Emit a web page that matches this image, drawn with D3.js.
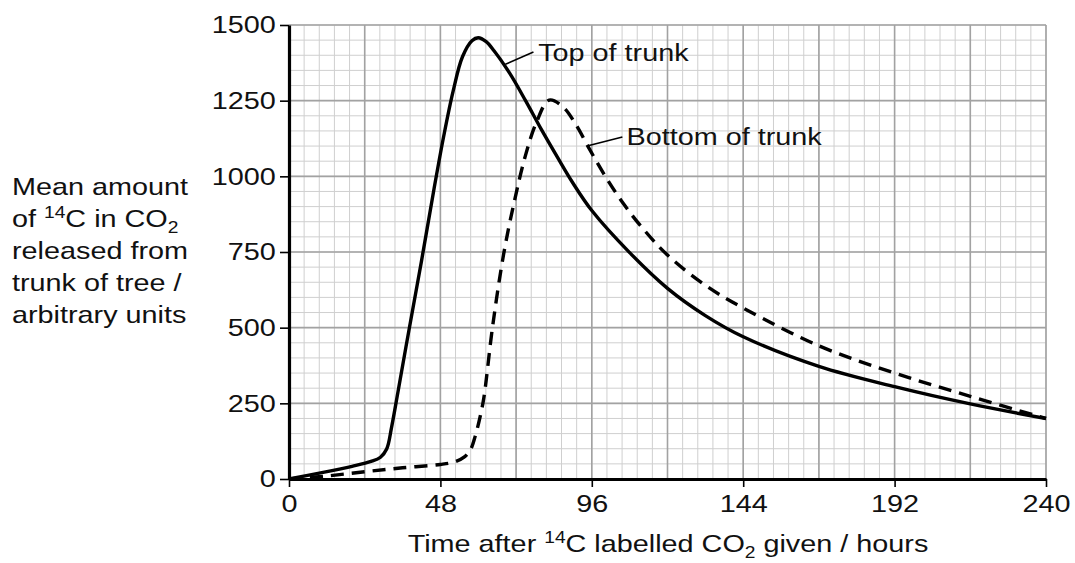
<!DOCTYPE html>
<html lang="en">
<head>
<meta charset="UTF-8">
<title>14C released from trunk</title>
<script src="https://d3js.org/d3.v7.min.js"></script>
<style>
  body { margin: 0; background: #fff; }
  svg text { font-family: "Liberation Sans", Arial, sans-serif; fill: #111; }
  .minor { stroke: #cfcfcf; stroke-width: 1; }
  .major { stroke: #a2a2a2; stroke-width: 1.6; }
  .curve { fill: none; stroke: #000; stroke-width: 3.4; }
</style>
</head>
<body>
<svg width="1075" height="563"></svg>
<script>
// hours after labelling, and amount released (arbitrary units)
const topTimes = [0, 10, 20, 26, 29, 31, 32.5, 34.5, 38, 42, 46, 49, 52, 55, 58, 60, 62.5, 65, 70, 75, 80, 85, 90, 96, 108, 120, 132, 144, 168, 192, 216, 240];
const topValues = [0, 20, 42, 58, 72, 100, 170, 285, 490, 720, 960, 1130, 1280, 1395, 1448, 1458, 1445, 1415, 1340, 1250, 1155, 1065, 978, 887, 748, 630, 540, 470, 372, 305, 248, 200];

const bottomTimes = [0, 12, 24, 36, 48, 52.7, 55.5, 57.5, 59, 60.6, 61.8, 64.5, 68, 71.5, 75, 78.5, 82.5, 87, 91, 95, 100, 106, 112, 120, 132, 144, 168, 192, 216, 240];
const bottomValues = [0, 10, 24, 37, 48, 57, 72, 96, 140, 206, 270, 500, 740, 920, 1070, 1180, 1252, 1228, 1170, 1095, 1005, 910, 830, 740, 640, 565, 440, 350, 273, 200];

const xTicks = [0, 48, 96, 144, 192, 240];
const yTicks = [0, 250, 500, 750, 1000, 1250, 1500];

const svg = d3.select("svg");
const x = d3.scaleLinear().domain([0, 240]).range([289, 1046]);
const y = d3.scaleLinear().domain([0, 1500]).range([479, 25]);
const sx = 1.2; // text in the original is stretched sideways

// grid paper
const minorX = d3.range(0, 240.01, 4.8), minorY = d3.range(0, 1500.1, 50);
const grid = svg.append("g");
grid.selectAll(".mx").data(minorX).enter().append("line").attr("class", "minor")
  .attr("x1", d => x(d)).attr("x2", d => x(d)).attr("y1", y(0)).attr("y2", y(1500));
grid.selectAll(".my").data(minorY).enter().append("line").attr("class", "minor")
  .attr("y1", d => y(d)).attr("y2", d => y(d)).attr("x1", x(0)).attr("x2", x(240));
grid.selectAll(".Mx").data(d3.range(0, 240.01, 24)).enter().append("line").attr("class", "major")
  .attr("x1", d => x(d)).attr("x2", d => x(d)).attr("y1", y(0)).attr("y2", y(1500));
grid.selectAll(".My").data(yTicks).enter().append("line").attr("class", "major")
  .attr("y1", d => y(d)).attr("y2", d => y(d)).attr("x1", x(0)).attr("x2", x(240));

// axes
const xAxis = svg.append("g").attr("transform", `translate(0,${y(0)})`)
  .call(d3.axisBottom(x).tickValues(xTicks).tickFormat(d3.format("d"))
    .tickSize(8).tickPadding(8).tickSizeOuter(0));
const yAxis = svg.append("g").attr("transform", `translate(${x(0)},0)`)
  .call(d3.axisLeft(y).tickValues(yTicks).tickFormat(d3.format("d"))
    .tickSize(9).tickPadding(2).tickSizeOuter(0));
[xAxis, yAxis].forEach(a => {
  a.select(".domain").attr("stroke", "#000").attr("stroke-width", 3.2);
  a.selectAll(".tick line").attr("stroke", "#000").attr("stroke-width", 1.6);
  a.selectAll(".tick text").attr("font-size", 24).attr("fill", "#111")
    .attr("font-family", "Liberation Sans, Arial, sans-serif")
    .attr("transform", `scale(${sx},1)`);
});

// curves
const line = d3.line().x(d => x(d[0])).y(d => y(d[1])).curve(d3.curveCatmullRom.alpha(0.5));
svg.append("path").attr("class", "curve")
  .attr("d", line(d3.zip(topTimes, topValues)));
svg.append("path").attr("class", "curve").attr("stroke-dasharray", "13,8")
  .attr("d", line(d3.zip(bottomTimes, bottomValues)));

// curve labels with leader lines
const labels = [
  { text: "Top of trunk", from: [68.6, 1370], to: [77.5, 1411], at: [79, 1380] },
  { text: "Bottom of trunk", from: [94.5, 1100], to: [105.7, 1130], at: [107, 1105] }
];
labels.forEach(l => {
  svg.append("line").attr("stroke", "#000").attr("stroke-width", 1.6)
    .attr("x1", x(l.from[0])).attr("y1", y(l.from[1]))
    .attr("x2", x(l.to[0])).attr("y2", y(l.to[1]));
  svg.append("text").attr("font-size", 24)
    .attr("transform", `translate(${x(l.at[0])},${y(l.at[1])}) scale(${sx},1)`)
    .text(l.text);
});

// text with super/subscripts
function richText(g, parts) {
  const txt = g.append("text").attr("font-size", 24);
  let shift = 0;
  parts.forEach(p => {
    const off = p.sup ? -9 : p.sub ? 6 : 0;
    txt.append("tspan").attr("dy", off - shift)
      .attr("font-size", p.sup || p.sub ? 16 : 24).text(p.t);
    shift = off;
  });
  return txt;
}

// y axis title
const yTitle = [
  [{ t: "Mean amount" }],
  [{ t: "of " }, { t: "14", sup: true }, { t: "C in CO" }, { t: "2", sub: true }],
  [{ t: "released from" }],
  [{ t: "trunk of tree /" }],
  [{ t: "arbitrary units" }]
];
yTitle.forEach((parts, i) => {
  const g = svg.append("g").attr("transform", `translate(12,${195 + i * 32}) scale(${sx},1)`);
  richText(g, parts);
});

// x axis title
const xg = svg.append("g").attr("transform", `translate(668,552) scale(${sx},1)`);
richText(xg, [{ t: "Time after " }, { t: "14", sup: true }, { t: "C labelled CO" }, { t: "2", sub: true }, { t: " given / hours" }])
  .attr("text-anchor", "middle");
</script>
</body>
</html>
